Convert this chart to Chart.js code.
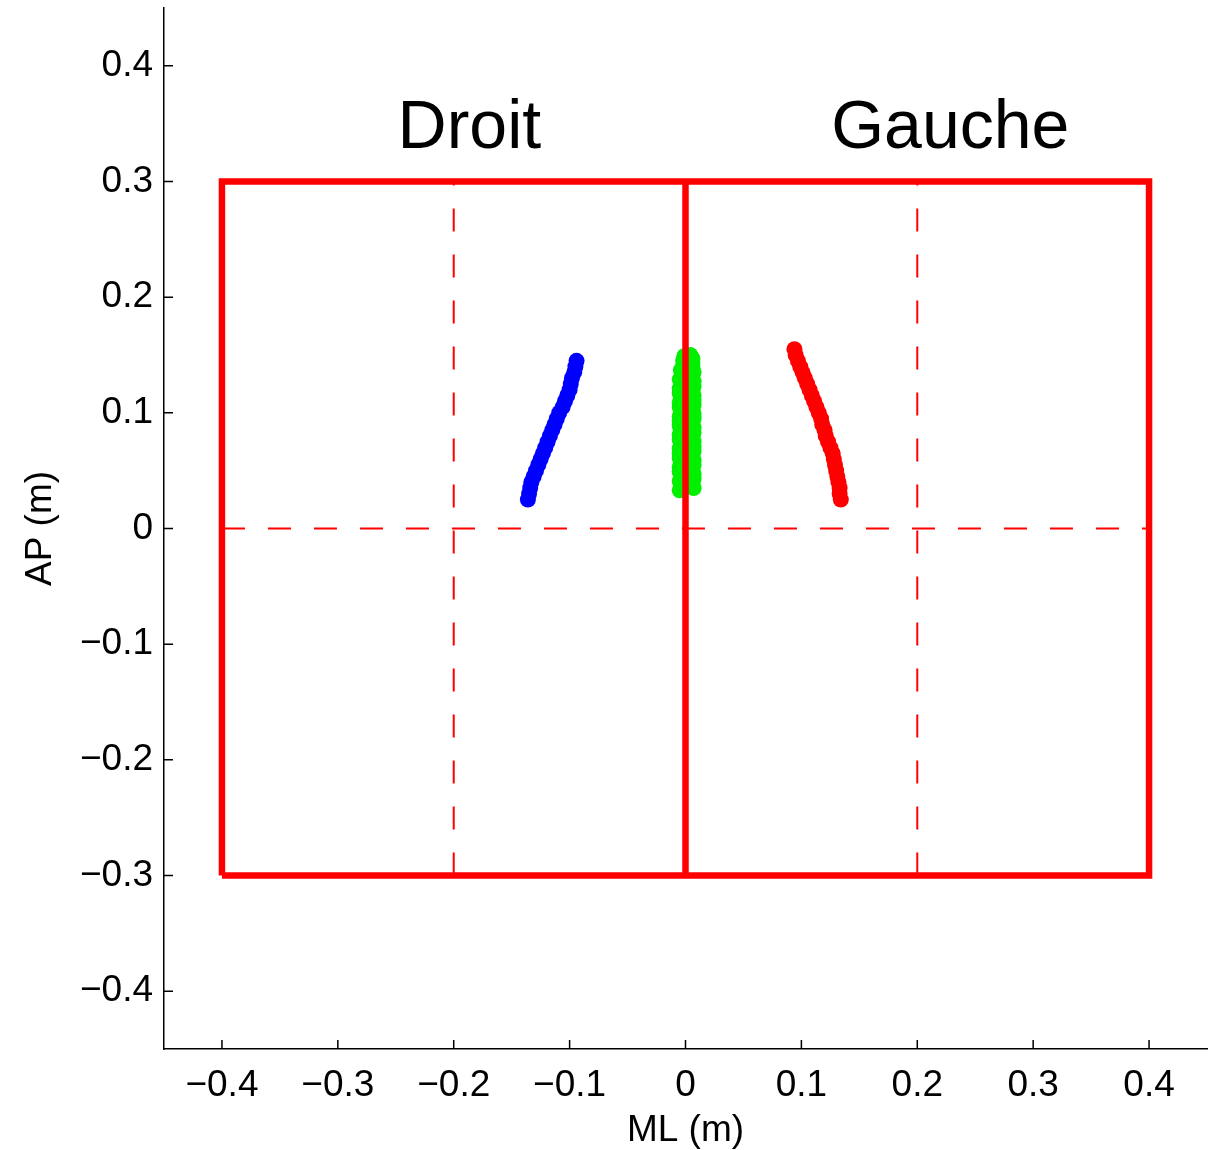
<!DOCTYPE html>
<html>
<head>
<meta charset="utf-8">
<script src="https://cdn.jsdelivr.net/npm/chart.js@4.4.1/dist/chart.umd.min.js"></script>
<style>
  html, body { margin: 0; padding: 0; background: #fff; }
  #wrap { width: 1220px; height: 1150px; }
</style>
</head>
<body>
<div id="wrap"><canvas id="c" width="1220" height="1150"></canvas></div>
<script>
// axis ticks
const xTicks = [-0.4, -0.3, -0.2, -0.1, 0, 0.1, 0.2, 0.3, 0.4];
const yTicks = [-0.4, -0.3, -0.2, -0.1, 0, 0.1, 0.2, 0.3, 0.4];

// trajectories (ML, AP) in metres
const droitX = [-0.136, -0.135, -0.134, -0.133, -0.131, -0.129, -0.127, -0.125, -0.123, -0.121,
  -0.119, -0.117, -0.115, -0.113, -0.111, -0.109, -0.106, -0.104, -0.102, -0.100,
  -0.099, -0.098, -0.096, -0.095, -0.094];
const droitY = [0.025, 0.030, 0.035, 0.040, 0.045, 0.050, 0.055, 0.060, 0.065, 0.070,
  0.075, 0.080, 0.085, 0.090, 0.095, 0.100, 0.105, 0.110, 0.115, 0.120,
  0.125, 0.130, 0.135, 0.140, 0.145];

const centreX = [-0.005, 0.007, -0.004, 0.006, -0.005, 0.007, -0.003, 0.007, -0.005, 0.006,
  -0.005, 0.007, -0.004, 0.007, -0.005, 0.006, -0.005, 0.007, -0.005, 0.007,
  -0.004, 0.007, -0.005, 0.006, -0.005, 0.007, -0.004, 0.007, -0.005, 0.006,
  -0.005, 0.007, -0.005, 0.007, -0.004, 0.006, -0.005, 0.007, -0.005, 0.007,
  -0.004, 0.007, -0.005, 0.006, -0.005, 0.007, -0.004, 0.007, -0.005, 0.006,
  -0.003, 0.007, -0.004, 0.006, -0.002, 0.006, -0.002, 0.006, -0.001, 0.004];
const centreY = [0.033, 0.035, 0.037, 0.039, 0.041, 0.043, 0.045, 0.047, 0.049, 0.051,
  0.053, 0.055, 0.057, 0.059, 0.061, 0.063, 0.065, 0.067, 0.069, 0.071,
  0.073, 0.075, 0.077, 0.079, 0.081, 0.083, 0.085, 0.087, 0.089, 0.091,
  0.093, 0.095, 0.097, 0.099, 0.101, 0.103, 0.105, 0.107, 0.109, 0.111,
  0.113, 0.115, 0.117, 0.119, 0.121, 0.123, 0.125, 0.127, 0.129, 0.131,
  0.133, 0.135, 0.137, 0.139, 0.141, 0.143, 0.145, 0.147, 0.149, 0.150];

const gaucheX = [0.094, 0.095, 0.097, 0.099, 0.101, 0.103, 0.105, 0.107, 0.109, 0.111,
  0.113, 0.115, 0.117, 0.118, 0.120, 0.121, 0.123, 0.125, 0.127, 0.128,
  0.129, 0.130, 0.131, 0.132, 0.133, 0.133, 0.134];
const gaucheY = [0.155, 0.150, 0.145, 0.140, 0.135, 0.130, 0.125, 0.120, 0.115, 0.110,
  0.105, 0.100, 0.095, 0.090, 0.085, 0.080, 0.075, 0.070, 0.065, 0.060,
  0.055, 0.050, 0.045, 0.040, 0.035, 0.030, 0.025];

// platform outline and guide lines
const boxX = [-0.4, -0.4, 0.4, 0.4, -0.4];
const boxY = [-0.3, 0.3, 0.3, -0.3, -0.3];
const midX = [0, 0];
const midY = [-0.3, 0.3];
const guideLeftX = [-0.2, -0.2];
const guideRightX = [0.2, 0.2];
const guideVY = [-0.3, 0.3];
const guideHX = [-0.4, 0.4];
const guideHY = [0, 0];

const sideLabels = ['Droit', 'Gauche'];
const sideLabelX = [-0.1865, 0.2285];
const sideLabelY = [0.329, 0.329];

const zip = (xs, ys) => xs.map((x, i) => ({ x: x, y: ys[i] }));
const fmt = v => (v < 0 ? '\u2212' : '') + (v === 0 ? '0' : Math.abs(v).toFixed(1));

const FONT = '"Liberation Sans", Arial, Helvetica, sans-serif';
const DASH = [23, 23];

function lineSet(xs, ys, width, dash) {
  return {
    type: 'line',
    data: zip(xs, ys),
    showLine: true,
    borderColor: '#ff0000',
    borderWidth: width,
    borderDash: dash || [],
    borderCapStyle: 'butt',
    pointRadius: 0,
    fill: false,
    tension: 0,
    order: 0,
  };
}

function pointSet(xs, ys, color) {
  return {
    type: 'scatter',
    data: zip(xs, ys),
    backgroundColor: color,
    borderColor: color,
    borderWidth: 0,
    pointRadius: 8,
    order: 1,
  };
}

// inward tick marks + side labels
const extrasPlugin = {
  id: 'extras',
  afterDraw(chart) {
    const ctx = chart.ctx;
    const xs = chart.scales.x;
    const ys = chart.scales.y;
    const area = chart.chartArea;
    ctx.save();
    ctx.strokeStyle = '#000';
    ctx.lineWidth = 1.5;
    ctx.beginPath();
    xTicks.forEach(v => {
      const px = xs.getPixelForValue(v);
      ctx.moveTo(px, area.bottom);
      ctx.lineTo(px, area.bottom - 9);
    });
    yTicks.forEach(v => {
      const py = ys.getPixelForValue(v);
      ctx.moveTo(area.left, py);
      ctx.lineTo(area.left + 9, py);
    });
    ctx.stroke();

    ctx.fillStyle = '#000';
    ctx.font = '68px ' + FONT;
    ctx.textAlign = 'center';
    ctx.textBaseline = 'alphabetic';
    sideLabels.forEach((t, i) => {
      ctx.fillText(t, xs.getPixelForValue(sideLabelX[i]), ys.getPixelForValue(sideLabelY[i]));
    });
    ctx.restore();
  }
};

new Chart(document.getElementById('c'), {
  data: {
    datasets: [
      lineSet(boxX, boxY, 6.5),
      lineSet(midX, midY, 6.5),
      lineSet(guideLeftX, guideVY, 2, DASH),
      lineSet(guideRightX, guideVY, 2, DASH),
      lineSet(guideHX, guideHY, 2, DASH),
      pointSet(droitX, droitY, '#0000ff'),
      pointSet(centreX, centreY, '#00f000'),
      pointSet(gaucheX, gaucheY, '#ff0000'),
    ],
  },
  options: {
    responsive: false,
    animation: false,
    events: [],
    layout: { padding: { top: 8, right: 13, left: 0, bottom: 0 } },
    plugins: {
      legend: { display: false },
      tooltip: { enabled: false },
    },
    scales: {
      x: {
        type: 'linear',
        min: -0.45,
        max: 0.45,
        afterBuildTicks: s => { s.ticks = xTicks.map(v => ({ value: v })); },
        afterFit: s => { s.height = 101; s.paddingLeft = 0; s.paddingRight = 0; },
        grid: { display: false },
        border: { display: true, color: '#000', width: 1.5 },
        ticks: {
          color: '#000',
          font: { family: FONT, size: 37 },
          padding: 7,
          maxRotation: 0,
          autoSkip: false,
          callback: v => fmt(v),
        },
        title: {
          display: true,
          text: 'ML (m)',
          color: '#000',
          font: { family: FONT, size: 37 },
          padding: { top: 0, bottom: -3 },
        },
      },
      y: {
        type: 'linear',
        min: -0.45,
        max: 0.45,
        afterBuildTicks: s => { s.ticks = yTicks.map(v => ({ value: v })); },
        afterFit: s => { s.width = 164; s.paddingTop = 0; s.paddingBottom = 0; },
        grid: { display: false },
        border: { display: true, color: '#000', width: 1.5 },
        ticks: {
          color: '#000',
          font: { family: FONT, size: 37 },
          padding: 3,
          autoSkip: false,
          callback: v => fmt(v),
        },
        title: {
          display: true,
          text: 'AP (m)',
          color: '#000',
          font: { family: FONT, size: 37 },
          padding: { top: 19, bottom: 0 },
        },
      },
    },
  },
  plugins: [extrasPlugin],
});
</script>
</body>
</html>
